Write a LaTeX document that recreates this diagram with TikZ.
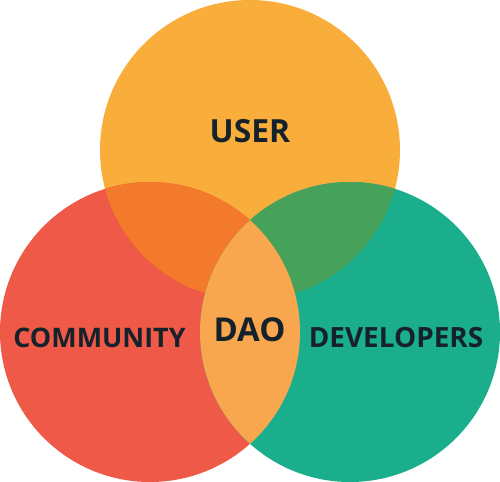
\documentclass[tikz,border=0pt]{standalone}
\usepackage{fontspec}
\setmainfont{Open Sans}
\usetikzlibrary{positioning}

\definecolor{userfill}{HTML}{F9AE3B}
\definecolor{commfill}{HTML}{EF5947}
\definecolor{devfill}{HTML}{1BAE8C}
\definecolor{usercommfill}{HTML}{F27A2A}
\definecolor{userdevfill}{HTML}{46A15A}
\definecolor{daofill}{HTML}{F9A74F}
\definecolor{labeltext}{HTML}{15222B}

\begin{document}
\begin{tikzpicture}[x=1bp,y=-1bp,set node/.style={circle,inner sep=0pt,outer sep=0pt,minimum size=300bp},label node/.style={text=labeltext,inner sep=0pt}]

	\useasboundingbox (0,0) rectangle (500,482);

	%the three sets, one circle each
	\begin{scope}
		\node[set node,fill=userfill] (user set) at (250,150) {};
		\node[set node,fill=commfill] (community set) at (150,332) {};
		\node[set node,fill=devfill] (developer set) at (350,332) {};
	\end{scope}

	%overlaps of the top set with the two lower ones
	\begin{scope}
		\clip (user set.center) circle (150bp);
		\fill[usercommfill] (community set.center) circle (150bp);
		\fill[userdevfill] (developer set.center) circle (150bp);
	\end{scope}

	%lens of the two lower sets, drawn over the middle
	\begin{scope}
		\clip (community set.center) circle (150bp);
		\fill[daofill] (developer set.center) circle (150bp);
	\end{scope}

	%finally, the names of the sets
	\begin{scope}
		\node[label node,font=\bfseries\fontsize{32}{32}\selectfont] (user) at (250,131.5) {USER};
		\node[label node,font=\bfseries\fontsize{27}{27}\selectfont] (community) at (99.5,337.5) {COMMUNITY};
		\node[label node,font=\bfseries\fontsize{33}{33}\selectfont] (dao) at (249.5,330) {DAO};
		\node[label node,font=\bfseries\fontsize{28}{28}\selectfont] (developers) at (396,337.5) {DEVELOPERS};
	\end{scope}
\end{tikzpicture}
\end{document}
